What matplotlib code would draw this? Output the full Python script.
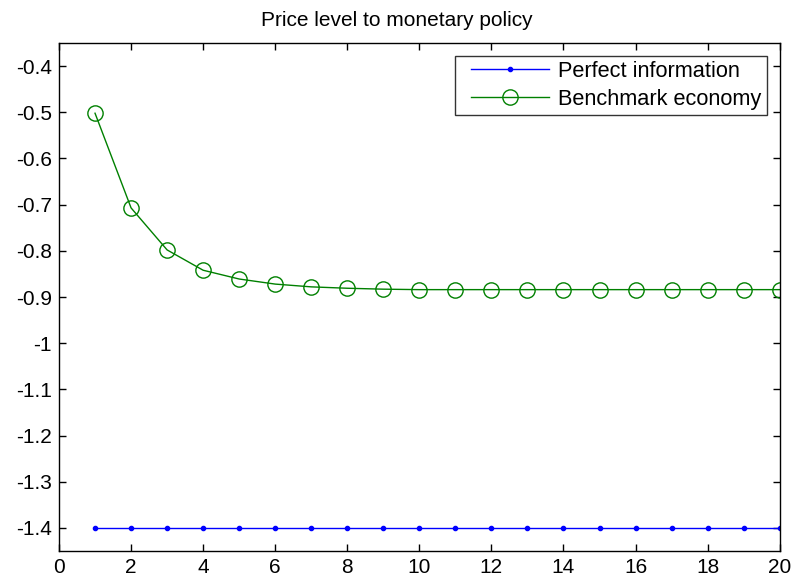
import matplotlib
matplotlib.use("Agg")
import matplotlib.pyplot as plt
from matplotlib.legend_handler import HandlerLine2D
import numpy as np

plt.rcParams['font.family'] = ['Liberation Sans', 'DejaVu Sans']

periods = np.arange(1, 21)
perfect_info = [-1.4] * 20
benchmark = [-0.502, -0.707, -0.798, -0.842, -0.861, -0.872, -0.878, -0.881,
             -0.883, -0.884, -0.884, -0.884, -0.884, -0.884, -0.884, -0.884,
             -0.884, -0.884, -0.884, -0.884]
x_ticks = list(range(0, 21, 2))
y_ticks = [-1.4, -1.3, -1.2, -1.1, -1.0, -0.9, -0.8, -0.7, -0.6, -0.5, -0.4]


class IndentedLineHandler(HandlerLine2D):
    """Line legend handle drawn with an extra left indent (in points)."""

    def __init__(self, indent, **kw):
        super().__init__(**kw)
        self.indent = indent

    def create_artists(self, legend, orig_handle, xdescent, ydescent,
                       width, height, fontsize, trans):
        return super().create_artists(legend, orig_handle,
                                      xdescent - self.indent, ydescent,
                                      width - self.indent, height,
                                      fontsize, trans)


fig = plt.figure(figsize=(7.94, 5.87), dpi=100)
ax = fig.add_axes([0.0743, 0.0613, 0.9077, 0.8654])

l1, = ax.plot(periods, perfect_info, color='blue', lw=1.0, marker='.',
              markersize=6, label='Perfect information')
l2, = ax.plot(periods, benchmark, color='green', lw=1.0, marker='o',
              markersize=11, markerfacecolor='none', markeredgecolor='green',
              markeredgewidth=1.0, label='Benchmark economy')

ax.set_xlim(0, 20)
ax.set_ylim(-1.45, -0.35)
ax.set_xticks(x_ticks)
ax.set_xticklabels([str(t) for t in x_ticks])
ax.set_yticks(y_ticks)
ax.set_yticklabels(['%g' % t for t in y_ticks])
ax.tick_params(direction='in', length=5, width=1, labelsize=15,
               top=True, right=True, pad=5)
for s in ax.spines.values():
    s.set_linewidth(1.0)

ax.set_title('Price level to monetary policy', fontsize=15, pad=12.5, x=0.469)

indent = 10.5 * 72 / 100  # points
leg = ax.legend(loc='upper right', fontsize=15.7, frameon=True, fancybox=False,
                edgecolor='black', handlelength=4.06, borderaxespad=0.58,
                labelspacing=0.3, handletextpad=0.41, borderpad=0.25,
                handler_map={l1: IndentedLineHandler(indent),
                             l2: IndentedLineHandler(indent)})
leg.get_frame().set_linewidth(1.0)

fig.savefig('out.png', dpi=100)
